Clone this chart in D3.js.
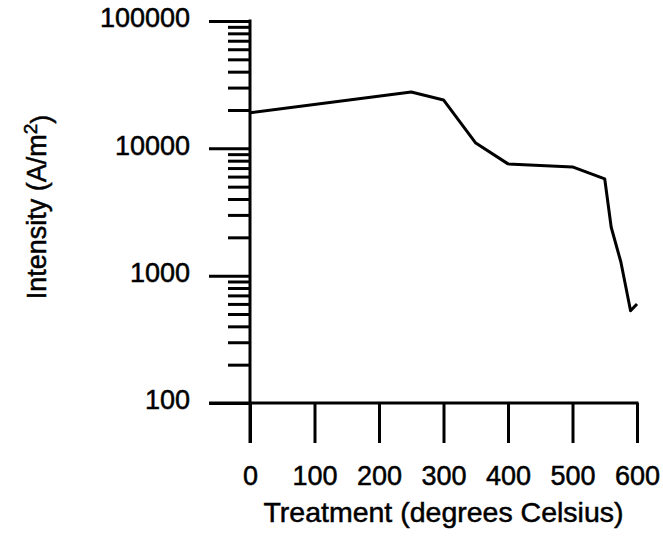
<!DOCTYPE html>
<html>
<head>
<meta charset="utf-8">
<script src="https://cdn.jsdelivr.net/npm/d3@7/dist/d3.min.js"></script>
<style>
  body { margin: 0; background: #fff; }
  text { font-family: "Liberation Sans", Arial, sans-serif; fill: #000; stroke: #000; stroke-width: 0.5px; }
</style>
</head>
<body>
<svg id="chart" width="663" height="547"></svg>
<script>
// treatment temperatures (degrees C) and measured intensity (A/m2)
var temps = [0, 250, 300, 350, 400, 500, 550, 560, 575, 590, 600];
var intensity = [19000, 27700, 24000, 11000, 7550, 7150, 5750, 2400, 1280, 530, 600];

var xTicks = [0, 100, 200, 300, 400, 500, 600];
var yMajor = [100, 1000, 10000, 100000];

var svg = d3.select("#chart");

var x = d3.scaleLinear().domain([0, 600]).range([250, 637]);
var y = d3.scaleLog().domain([100, 100000]).range([403, 21]);

// minor ticks 2..9 in every decade
var yMinor = [];
yMajor.slice(0, -1).forEach(function (d) {
    for (var k = 2; k <= 9; k++) yMinor.push(d * k);
});

var ink = "#000";

// minor y ticks
svg.append("g")
    .attr("transform", "translate(" + x(0) + ",0)")
    .call(d3.axisLeft(y).tickValues(yMinor).tickSize(22).tickSizeOuter(0).tickFormat(""));

// major y ticks + labels
var gMajor = svg.append("g")
    .attr("transform", "translate(" + x(0) + ",0)")
    .call(d3.axisLeft(y).tickValues(yMajor).tickSize(41).tickSizeOuter(0)
        .tickPadding(19).tickFormat(d3.format("d")));
gMajor.selectAll("text")
    .attr("dy", "0.22em")
    .style("font-size", "27px");

// x ticks + labels
var gx = svg.append("g")
    .attr("transform", "translate(0," + y(100) + ")")
    .call(d3.axisBottom(x).tickValues(xTicks).tickSize(40).tickSizeOuter(0).tickPadding(23));
gx.selectAll("text")
    .style("font-size", "27px");

svg.selectAll(".domain").remove();
svg.selectAll(".tick line").attr("stroke", ink).attr("stroke-width", 3);

// axis lines: y axis runs down to the end of the x ticks
svg.append("line")
    .attr("x1", x(0)).attr("x2", x(0))
    .attr("y1", y(100000) - 1.5).attr("y2", y(100) + 40)
    .attr("stroke", ink).attr("stroke-width", 3);
svg.append("line")
    .attr("x1", x(0) - 41).attr("x2", x(600) + 1.5)
    .attr("y1", y(100)).attr("y2", y(100))
    .attr("stroke", ink).attr("stroke-width", 3);

// data line
var line = d3.line()
    .x(function (d, i) { return x(temps[i]); })
    .y(function (d) { return y(d); });

svg.append("path")
    .datum(intensity)
    .attr("d", line)
    .attr("fill", "none")
    .attr("stroke", ink)
    .attr("stroke-width", 3)
    .attr("stroke-linejoin", "round");

// axis titles
svg.append("text")
    .attr("x", (x(0) + x(600)) / 2)
    .attr("y", 522)
    .attr("text-anchor", "middle")
    .style("font-size", "28.5px")
    .text("Treatment (degrees Celsius)");

var yt = svg.append("text")
    .attr("transform", "translate(46,207) rotate(-90)")
    .attr("text-anchor", "middle")
    .style("font-size", "27px");
yt.append("tspan").text("Intensity (A/m");
yt.append("tspan").attr("dy", "-0.5em").style("font-size", "19px").text("2");
yt.append("tspan").attr("dy", "0.5em").text(")");
</script>
</body>
</html>
